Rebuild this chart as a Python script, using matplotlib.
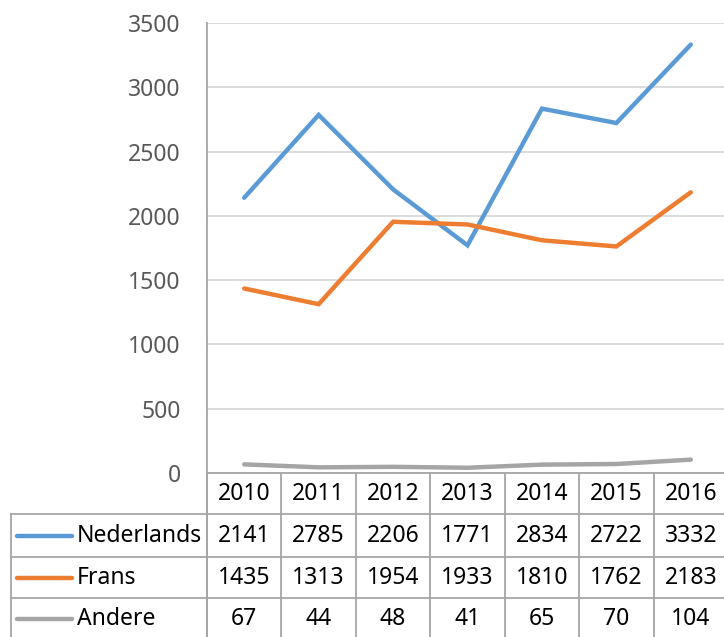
import matplotlib
matplotlib.use('agg')
from matplotlib import pyplot as plt
from matplotlib.transforms import blended_transform_factory

# data
years = ['2010', '2011', '2012', '2013', '2014', '2015', '2016']
nederlands = [2141, 2785, 2206, 1771, 2834, 2722, 3332]
frans = [1435, 1313, 1954, 1933, 1810, 1762, 2183]
andere = [67, 44, 48, 41, 65, 70, 104]
series_names = ['Nederlands', 'Frans', 'Andere']
series_colors = ['#5B9BD5', '#ED7D31', '#A5A5A5']

plt.rcParams['font.family'] = ['Noto Sans', 'DejaVu Sans']

W, H = 724, 637
fig = plt.figure(figsize=(W / 100, H / 100), dpi=100)

# plot area in pixels: x 207..728, y 23..473
ax = fig.add_axes([207 / W, (H - 473) / H, 521 / W, 450 / H])
xs = list(range(len(years)))
for vals, col in zip([nederlands, frans, andere], series_colors):
    ax.plot(xs, vals, color=col, lw=3.2, solid_capstyle='round', solid_joinstyle='miter', zorder=3)

ax.set_xlim(-0.5, len(years) - 0.5)
ax.set_ylim(0, 3500)
ax.set_yticks(range(0, 3501, 500))
ax.set_xticks([])
ax.yaxis.grid(True, color='#D9D9D9', lw=1.3)
ax.set_axisbelow(True)
for s in ['top', 'right']:
    ax.spines[s].set_visible(False)
ax.spines['left'].set_color('#A6A6A6')
ax.spines['bottom'].set_color('#A6A6A6')
ax.spines['left'].set_linewidth(1.3)
ax.spines['bottom'].set_linewidth(1.3)
ax.tick_params(axis='y', length=0, pad=19, labelsize=16.5, labelcolor='#595959')

# overlay in pixel coordinates for the data table
ov = fig.add_axes([0, 0, 1, 1], zorder=-1)
ov.set_xlim(0, W)
ov.set_ylim(H, 0)
ov.axis('off')
tr = blended_transform_factory(ax.transData, ov.transData)

grid_col = '#A6A6A6'
row_lines = [514, 557, 598]
row_centers = [493.5, 535.5, 577.5, 619]
bottom = 640

# vertical column lines
for i in range(len(years) + 1):
    ov.plot([i - 0.5, i - 0.5], [473, bottom], color=grid_col, lw=1.3, transform=tr, clip_on=False)
ov.plot([11, 11], [514, bottom], color=grid_col, lw=1.3)
ov.plot([207, 207], [473, bottom], color=grid_col, lw=1.3)
for y in row_lines:
    ov.plot([11, W], [y, y], color=grid_col, lw=1.3)

fs = 16.5
for i, yr in enumerate(years):
    ov.text(i, row_centers[0], yr, transform=tr, ha='center', va='center', fontsize=fs, color='#000000')

for r, (name, vals, col) in enumerate(zip(series_names, [nederlands, frans, andere], series_colors)):
    yc = row_centers[r + 1]
    ov.plot([17, 72], [yc, yc], color=col, lw=3.2, solid_capstyle='round')
    ov.text(77, yc, name, ha='left', va='center', fontsize=fs, color='#000000')
    for i, v in enumerate(vals):
        ov.text(i, yc, str(v), transform=tr, ha='center', va='center', fontsize=fs, color='#000000')

fig.savefig('out.png', dpi=100)
